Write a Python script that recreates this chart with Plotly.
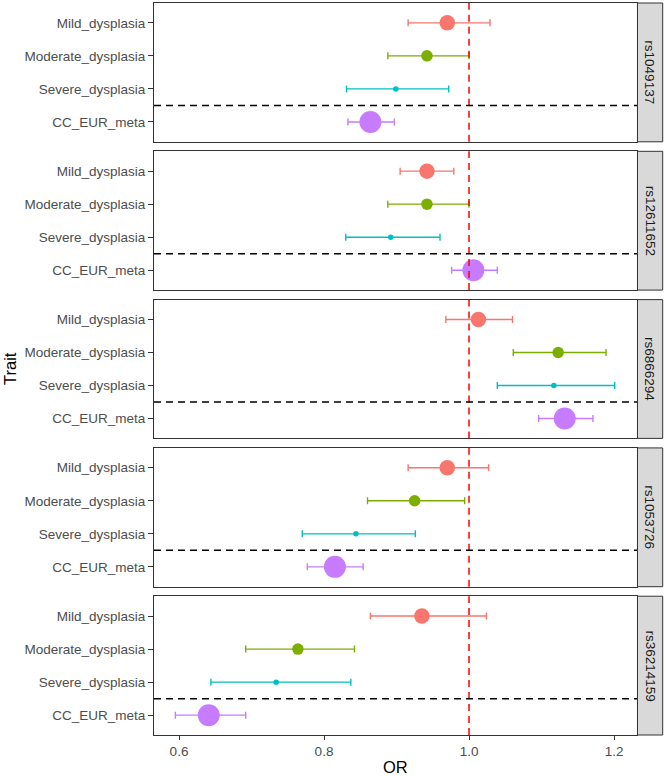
import plotly.graph_objects as go

# ---------------- data ----------------
snps = ["rs1049137", "rs12611652", "rs6866294", "rs1053726", "rs36214159"]
traits = ["Mild_dysplasia", "Moderate_dysplasia", "Severe_dysplasia", "CC_EUR_meta"]
trait_pos = [4, 3, 2, 1]  # vertical order within a panel (top to bottom)

or_values = {
    "rs1049137":  [0.970, 0.942, 0.899, 0.864],
    "rs12611652": [0.942, 0.942, 0.892, 1.006],
    "rs6866294":  [1.013, 1.123, 1.117, 1.132],
    "rs1053726":  [0.970, 0.925, 0.844, 0.815],
    "rs36214159": [0.935, 0.764, 0.734, 0.641],
}
ci_low = {
    "rs1049137":  [0.916, 0.888, 0.831, 0.833],
    "rs12611652": [0.905, 0.888, 0.830, 0.976],
    "rs6866294":  [0.968, 1.061, 1.039, 1.096],
    "rs1053726":  [0.916, 0.860, 0.770, 0.777],
    "rs36214159": [0.864, 0.692, 0.644, 0.595],
}
ci_high = {
    "rs1049137":  [1.029, 1.000, 0.972, 0.897],
    "rs12611652": [0.979, 1.000, 0.960, 1.039],
    "rs6866294":  [1.060, 1.189, 1.201, 1.171],
    "rs1053726":  [1.027, 0.994, 0.926, 0.854],
    "rs36214159": [1.024, 0.842, 0.837, 0.692],
}
trait_colors = ["#F8766D", "#7CAE00", "#00BFC4", "#C77CFF"]
trait_sizes = [15.5, 11.5, 5.5, 22]

x_ticks = [0.6, 0.8, 1.0, 1.2]
x_range = [0.5655, 1.2317]
ref_line = 1.0
sep_line = 1.5

# ---------------- layout geometry ----------------
W, H = 666, 776
ml, mr, mt, mb = 154, 29, 3, 41
n = len(snps)
gap = 0.013
ph = (1 - gap * (n - 1)) / n

fig = go.Figure()
grey30 = "#4D4D4D"
border = "#333333"
font_family = "Liberation Sans, Arial, sans-serif"

shapes = []
annotations = []
for i, snp in enumerate(snps):
    k = i + 1
    xa = "x" if k == 1 else f"x{k}"
    ya = "y" if k == 1 else f"y{k}"
    top = 1 - i * (ph + gap)
    bot = top - ph
    for j, tr in enumerate(traits):
        v = or_values[snp][j]
        fig.add_trace(go.Scatter(
            x=[v], y=[trait_pos[j]], xaxis=xa, yaxis=ya, mode="markers",
            marker=dict(color=trait_colors[j], size=trait_sizes[j], line=dict(width=0)),
            error_x=dict(type="data", symmetric=False,
                         array=[ci_high[snp][j] - v], arrayminus=[v - ci_low[snp][j]],
                         color=trait_colors[j], thickness=1.4, width=3.5),
            showlegend=False, name=tr, hoverinfo="x+name",
        ))
    last = (i == n - 1)
    fig.layout[f"xaxis{'' if k == 1 else k}"] = dict(
        domain=[0, 1], anchor=ya, range=x_range,
        showline=True, linecolor=border, linewidth=1, mirror=True,
        showgrid=False, zeroline=False,
        tickvals=x_ticks, ticktext=[f"{t:.1f}" for t in x_ticks],
        showticklabels=last, ticks="outside" if last else "",
        ticklen=4, tickwidth=1, tickcolor=border,
        tickfont=dict(size=13.5, color=grey30, family=font_family),
        matches=None if k == 1 else "x",
    )
    fig.layout[f"yaxis{'' if k == 1 else k}"] = dict(
        domain=[bot, top], anchor=xa, range=[0.4, 4.6],
        showline=True, linecolor=border, linewidth=1, mirror=True,
        showgrid=False, zeroline=False,
        tickvals=trait_pos, ticktext=traits,
        ticks="outside", ticklen=5, tickwidth=1, tickcolor=border,
        tickfont=dict(size=13.5, color=grey30, family=font_family),
    )
    # reference line at OR = 1
    shapes.append(dict(type="line", xref=xa, yref=f"{ya} domain",
                       x0=ref_line, x1=ref_line, y0=0, y1=1,
                       line=dict(color="red", width=1.5, dash="7px,5px")))
    # separator between subtypes and meta-analysis
    shapes.append(dict(type="line", xref=f"{xa} domain", yref=ya,
                       x0=0, x1=1, y0=sep_line, y1=sep_line,
                       line=dict(color="black", width=1.5, dash="7px,5px")))
    # strip
    shapes.append(dict(type="rect", xref="paper", yref="paper",
                       x0=1.001, x1=1.0532, y0=bot, y1=top,
                       fillcolor="#D9D9D9", line=dict(color=border, width=1)))
    annotations.append(dict(text=snp, xref="paper", yref="paper",
                            x=1.027, y=(bot + top) / 2, showarrow=False,
                            textangle=90, xanchor="center", yanchor="middle",
                            font=dict(size=13.5, color="#1A1A1A", family=font_family)))

annotations.append(dict(text="Trait", xref="paper", yref="paper",
                        x=(10 - ml) / (W - ml - mr), y=0.5, showarrow=False,
                        textangle=-90, xanchor="center", yanchor="middle",
                        font=dict(size=16.5, color="black", family=font_family)))
annotations.append(dict(text="OR", xref="paper", yref="paper",
                        x=0.5, y=-(767 - (H - mb)) / (H - mt - mb), showarrow=False,
                        xanchor="center", yanchor="middle",
                        font=dict(size=16.5, color="black", family=font_family)))

fig.update_layout(
    width=W, height=H,
    margin=dict(l=ml, r=mr, t=mt, b=mb),
    paper_bgcolor="white", plot_bgcolor="white",
    shapes=shapes, annotations=annotations,
    showlegend=False,
    font=dict(family=font_family),
)

fig.write_html("out.html", config={"displayModeBar": False},
               post_script="document.body.style.margin='0';document.body.style.overflow='hidden';")
